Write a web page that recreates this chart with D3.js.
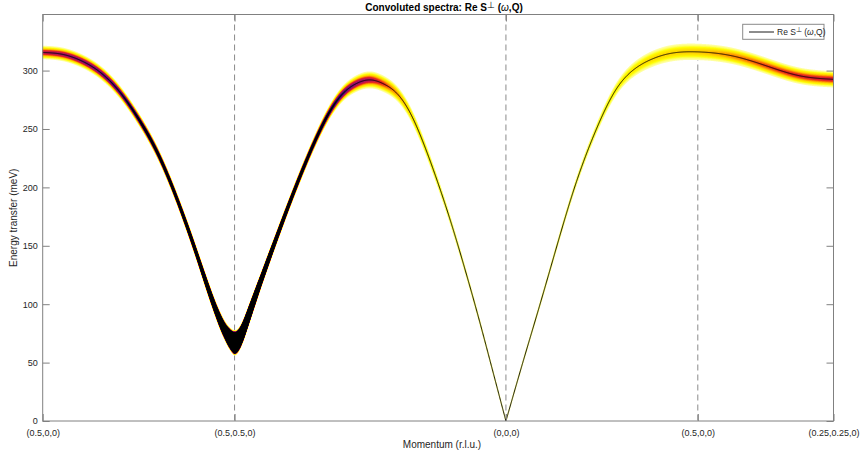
<!DOCTYPE html>
<html><head><meta charset="utf-8">
<script src="https://cdn.jsdelivr.net/npm/d3@7"></script>
<style>body{margin:0;background:#fff} svg{display:block;font-family:"Liberation Sans",Arial,Helvetica,sans-serif}</style>
</head><body><svg id="c" width="860" height="455"></svg>
<script>
// ---- data ----
const tickLabels = ["(0.5,0,0)", "(0.5,0.5,0)", "(0,0,0)", "(0.5,0,0)", "(0.25,0.25,0)"];
const tickPositions = [0, 0.5, 1.2071, 1.7071, 2.0607];   // path length (r.l.u.)
const yTicks = [0, 50, 100, 150, 200, 250, 300];
const yMax = 348;

// dispersion Re S⊥(ω,Q): path momentum (r.l.u.) and energy (meV)
const momentum = [0.000, 0.050, 0.100, 0.150, 0.200, 0.250, 0.300, 0.350, 0.400, 0.450, 0.475, 0.490, 0.500,
  0.5354, 0.5707, 0.6061, 0.6414, 0.6768, 0.7121, 0.7475, 0.7828, 0.8182, 0.8536,
  0.8889, 0.9243, 0.9596, 0.9950, 1.0303, 1.0657, 1.1010, 1.1364, 1.1718, 1.2071,
  1.251, 1.296, 1.340, 1.385, 1.443, 1.496, 1.539, 1.582, 1.626, 1.7071,
  1.798, 1.886, 1.973, 2.0607];
const energy = [315.5, 314.0, 308.5, 298.5, 282.0, 258.5, 229.0, 190.0, 144.0, 96.0, 77.0, 69.5, 67.0,
  89.0, 122.0, 154.0, 185.0, 214.5, 241.5, 264.5, 280.5, 289.0, 292.0,
  288.5, 280.0, 262.5, 235.5, 203.5, 168.1, 129.2, 87.8, 44.0, 0.0,
  50.0, 100.0, 150.0, 199.0, 250.0, 284.8, 300.5, 309.0, 314.0, 316.0,
  312.5, 304.0, 295.5, 292.5];
// convoluted intensity (peak level, 1 = saturated) and visible half width (meV)
const intensity = [0.60, 0.66, 0.72, 0.78, 0.88, 1.1, 1.6, 2.5, 4.5, 12, 40, 250, 1000,
  120, 20, 7, 3.6, 2.2, 1.5, 1.05, 0.85, 0.70, 0.62,
  0.50, 0.38, 0.28, 0.21, 0.17, 0.14, 0.12, 0.10, 0.08, 0.06,
  0.08, 0.10, 0.12, 0.14, 0.17, 0.20, 0.23, 0.26, 0.28, 0.30,
  0.40, 0.48, 0.53, 0.56];
const halfWidth = [5.8, 5.8, 5.8, 5.8, 5.6, 5.4, 5.2, 5.2, 5.8, 7.2, 8.5, 10.0, 11.0,
  9.0, 6.8, 5.8, 5.4, 5.4, 5.6, 6.1, 6.7, 7.1, 7.3,
  7.0, 6.4, 5.8, 5.2, 4.6, 4.1, 3.6, 3.2, 2.9, 2.6,
  2.6, 3.0, 3.4, 3.8, 4.4, 5.4, 6.2, 6.8, 7.0, 7.0,
  7.0, 7.0, 7.0, 7.0];

// ---- layout ----
const svg = d3.select("#c");
const L = 42.7, R = 833.5, T = 14.5, B = 421;
const x = d3.scaleLinear().domain([0, tickPositions[tickPositions.length - 1]]).range([L, R]);
const y = d3.scaleLinear().domain([0, yMax]).range([B, T]);
const axisCol = "#808080", textCol = "#262626";

svg.append("defs").append("clipPath").attr("id", "clip")
  .append("rect").attr("x", L).attr("y", T).attr("width", R - L).attr("height", B - T);

// dashed high-symmetry lines
svg.append("g").selectAll("line").data(tickPositions.slice(1)).join("line")
  .attr("x1", d => x(d)).attr("x2", d => x(d)).attr("y1", T).attr("y2", B)
  .attr("stroke", "#8a8a8a").attr("stroke-width", 1).attr("stroke-dasharray", "6,4");

// ---- natural cubic spline through the read points ----
function spline(xs, ys) {
  const n = xs.length, h = [], M = new Array(n).fill(0);
  for (let i = 0; i < n - 1; i++) h[i] = xs[i + 1] - xs[i];
  const a = [], b = [], c = [], d = [];
  for (let i = 1; i < n - 1; i++) {
    a.push(h[i - 1]); b.push(2 * (h[i - 1] + h[i])); c.push(h[i]);
    d.push(6 * ((ys[i + 1] - ys[i]) / h[i] - (ys[i] - ys[i - 1]) / h[i - 1]));
  }
  const m = b.length;
  for (let i = 1; i < m; i++) { const w = a[i] / b[i - 1]; b[i] -= w * c[i - 1]; d[i] -= w * d[i - 1]; }
  const sol = new Array(m);
  for (let i = m - 1; i >= 0; i--) sol[i] = (d[i] - (i < m - 1 ? c[i] * sol[i + 1] : 0)) / b[i];
  for (let i = 0; i < m; i++) M[i + 1] = sol[i];
  return q => {
    let i = d3.bisectRight(xs, q) - 1; i = Math.max(0, Math.min(n - 2, i));
    const hi = h[i], A = xs[i + 1] - q, Bq = q - xs[i];
    return M[i] * A * A * A / (6 * hi) + M[i + 1] * Bq * Bq * Bq / (6 * hi)
      + (ys[i] / hi - M[i] * hi / 6) * A + (ys[i + 1] / hi - M[i + 1] * hi / 6) * Bq;
  };
}
function linear(xs, ys) {
  return q => {
    let i = d3.bisectRight(xs, q) - 1; i = Math.max(0, Math.min(xs.length - 2, i));
    const t = (q - xs[i]) / (xs[i + 1] - xs[i]);
    return ys[i] + t * (ys[i + 1] - ys[i]);
  };
}

const split = energy.indexOf(0);
const pieces = [
  { q: momentum.slice(0, split + 1), e: energy.slice(0, split + 1) },
  { q: momentum.slice(split), e: energy.slice(split) }
];
const fE = pieces.map(p => spline(p.q, p.e));
const fLogA = linear(momentum, intensity.map(Math.log));
const fW = linear(momentum, halfWidth);
const qSplit = momentum[split];
const qEnd = momentum[momentum.length - 1];
const tmin = 0.04;

function mk(q, piece) {
  const E = fE[piece](q);
  const A = Math.exp(fLogA(q)), W = fW(q);
  const sig = W / Math.sqrt(2 * Math.log(A / tmin));
  return { q, E, A, sig };
}
const step = 0.0008;
const denseA = d3.range(0, qSplit, step).map(q => mk(q, 0)).concat([mk(qSplit, 0)]);
const denseB = [mk(qSplit, 1)].concat(d3.range(qSplit + step, qEnd, step).map(q => mk(q, 1))).concat([mk(qEnd, 1)]);
const dense = denseA.concat(denseB.slice(1));

// colour map: low intensity (yellow) -> high (black)
const cmap = d3.scaleLinear()
  .domain([0.0, 0.08, 0.15, 0.28, 0.38, 0.48, 0.60, 0.72, 0.84, 0.93, 1.0])
  .range(["#ffffd8", "#ffff70", "#ffff00", "#ffd000", "#ff8c00", "#e8281e", "#b4145a", "#7a1070", "#301060", "#101030", "#000000"])
  .interpolate(d3.interpolateRgb).clamp(true);

const N = 40;
const levels = d3.range(N).map(k => tmin + (1 - tmin) * k / (N - 1));
const band = svg.append("g").attr("clip-path", "url(#clip)");
levels.forEach(t => {
  const hw = d => d.sig * Math.sqrt(2 * Math.log(d.A / t));
  const area = d3.area().defined(d => d.A > t)
    .x(d => x(d.q)).y0(d => y(d.E - hw(d))).y1(d => y(d.E + hw(d)));
  band.append("path").attr("d", area(dense)).attr("fill", cmap(t)).attr("stroke", "none");
});

// dispersion line
const line = d3.line().x(d => x(d.q)).y(d => y(d.E));
const lineG = svg.append("g").attr("clip-path", "url(#clip)");
[denseA, denseB].forEach(p => {
  lineG.append("path").attr("d", line(p))
    .attr("fill", "none").attr("stroke", "#000").attr("stroke-width", 0.9);
});

// ---- axes ----
const fontTick = "9px";
const gx = svg.append("g").attr("transform", `translate(0,${B})`)
  .call(d3.axisBottom(x).tickValues(tickPositions).tickFormat((d, i) => tickLabels[i]).tickSize(-7).tickPadding(9));
const gxt = svg.append("g").attr("transform", `translate(0,${T})`)
  .call(d3.axisTop(x).tickValues(tickPositions).tickFormat("").tickSize(-7));
const gy = svg.append("g").attr("transform", `translate(${L},0)`)
  .call(d3.axisLeft(y).tickValues(yTicks).tickFormat(d3.format("d")).tickSize(-7).tickPadding(5));
const gyr = svg.append("g").attr("transform", `translate(${R},0)`)
  .call(d3.axisRight(y).tickValues(yTicks).tickFormat("").tickSize(-7));
[gx, gxt, gy, gyr].forEach(g => {
  g.select(".domain").remove();
  g.selectAll(".tick line").attr("stroke", axisCol);
  g.selectAll("text").attr("fill", textCol).style("font-size", fontTick).style("font-family", "Liberation Sans, Arial, sans-serif");
});
svg.append("rect").attr("x", L).attr("y", T).attr("width", R - L).attr("height", B - T)
  .attr("fill", "none").attr("stroke", axisCol).attr("stroke-width", 1);

// labels
svg.append("text").attr("x", 442).attr("y", 448).attr("text-anchor", "middle")
  .attr("fill", textCol).style("font-size", "10px").text("Momentum (r.l.u.)");
svg.append("text").attr("transform", `translate(17,${(T + B) / 2}) rotate(-90)`).attr("text-anchor", "middle")
  .attr("fill", textCol).style("font-size", "10px").text("Energy transfer (meV)");

// title
const title = svg.append("text").attr("x", 444).attr("y", 11).attr("text-anchor", "middle")
  .attr("fill", "#000").style("font-size", "10px").style("font-weight", "bold");
title.append("tspan").text("Convoluted spectra: Re S");
title.append("tspan").attr("dy", -3.5).style("font-size", "8.5px").style("font-weight", "normal").text("⊥");
title.append("tspan").attr("dy", 3.5).text(" (");
title.append("tspan").style("font-style", "italic").style("font-weight", "normal").text("ω");
title.append("tspan").text(",Q)");

// legend
const lg = svg.append("g");
lg.append("rect").attr("x", 742.7).attr("y", 24.3).attr("width", 81.3).attr("height", 15)
  .attr("fill", "#fff").attr("stroke", "#8a8a8a").attr("stroke-width", 1);
lg.append("line").attr("x1", 749).attr("x2", 774).attr("y1", 32).attr("y2", 32)
  .attr("stroke", "#000").attr("stroke-width", 0.9);
const lt = lg.append("text").attr("x", 777).attr("y", 35.3).attr("fill", textCol).style("font-size", "8.5px");
lt.append("tspan").text("Re S");
lt.append("tspan").attr("dy", -3).style("font-size", "7px").text("⊥");
lt.append("tspan").attr("dy", 3).text(" (");
lt.append("tspan").style("font-style", "italic").text("ω");
lt.append("tspan").text(",Q)");
</script></body></html>
